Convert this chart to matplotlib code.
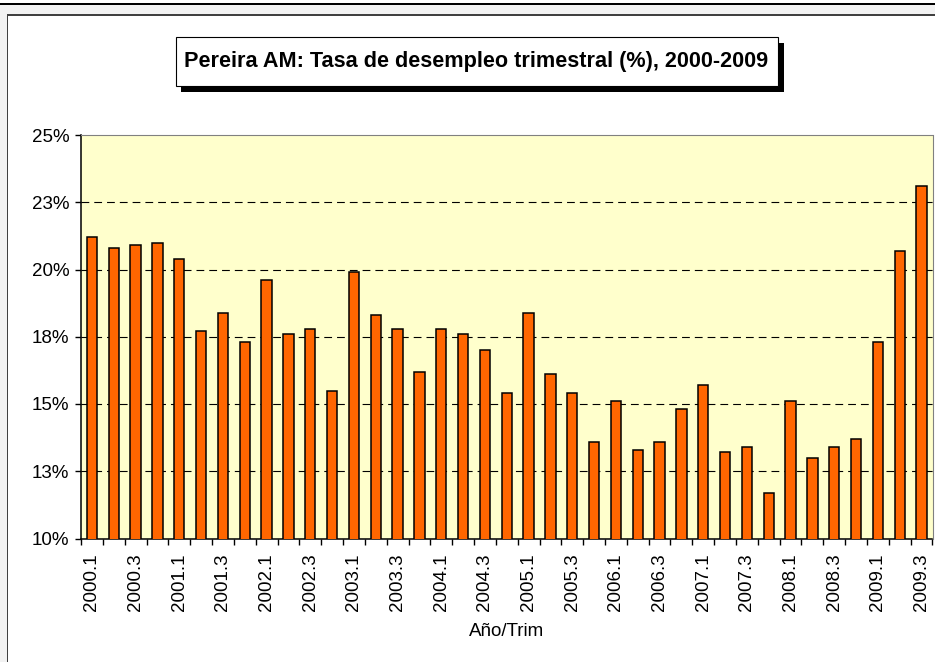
import matplotlib
matplotlib.use('Agg')
import matplotlib.pyplot as plt
from matplotlib import font_manager
from matplotlib.patches import Rectangle

# --- data --- #
periods = [
    '2000.1', '2000.2', '2000.3', '2000.4',
    '2001.1', '2001.2', '2001.3', '2001.4',
    '2002.1', '2002.2', '2002.3', '2002.4',
    '2003.1', '2003.2', '2003.3', '2003.4',
    '2004.1', '2004.2', '2004.3', '2004.4',
    '2005.1', '2005.2', '2005.3', '2005.4',
    '2006.1', '2006.2', '2006.3', '2006.4',
    '2007.1', '2007.2', '2007.3', '2007.4',
    '2008.1', '2008.2', '2008.3', '2008.4',
    '2009.1', '2009.2', '2009.3',
]
unemployment = [
    21.2, 20.8, 20.9, 21.0,
    20.4, 17.7, 18.4, 17.3,
    19.6, 17.6, 17.8, 15.5,
    19.9, 18.3, 17.8, 16.2,
    17.8, 17.6, 17.0, 15.4,
    18.4, 16.1, 15.4, 13.6,
    15.1, 13.3, 13.6, 14.8,
    15.7, 13.2, 13.4, 11.7,
    15.1, 13.0, 13.4, 13.7,
    17.3, 20.7, 23.1,
]
y_ticks = [10, 12.5, 15, 17.5, 20, 22.5, 25]
y_tick_labels = ['10%', '13%', '15%', '18%', '20%', '23%', '25%']

# --- style --- #
W, H = 935, 662
bar_color = '#FF6600'
plot_bg = '#FFFFCC'
frame_gray = '#F2F2F2'

names = {f.name for f in font_manager.fontManager.ttflist}
narrow = 'Liberation Sans Narrow' if 'Liberation Sans Narrow' in names else None
plt.rcParams['font.family'] = ['Liberation Sans', 'DejaVu Sans']

fig = plt.figure(figsize=(W / 100, H / 100), dpi=100, facecolor='white')


def px_rect(x0, y0, x1, y1, **kw):
    # rectangle given in image pixels (top-left origin)
    r = Rectangle((x0 / W, 1 - y1 / H), (x1 - x0) / W, (y1 - y0) / H,
                  transform=fig.transFigure, **kw)
    fig.add_artist(r)
    return r


# outer frame
px_rect(0, 4, W, 14, facecolor=frame_gray, edgecolor='none', zorder=0)
px_rect(0, 4, 7, H, facecolor=frame_gray, edgecolor='none', zorder=0)
px_rect(0, 2.5, W, 4.5, facecolor='black', edgecolor='none', zorder=1)
px_rect(7, 14, W, 15.5, facecolor='#404040', edgecolor='none', zorder=1)
px_rect(7, 14, 8.2, H, facecolor='#404040', edgecolor='none', zorder=1)

# plot area
left, right, top, bottom = 81, 932.5, 135, 538.5
ax = fig.add_axes([left / W, 1 - bottom / H, (right - left) / W, (bottom - top) / H])
ax.set_facecolor(plot_bg)

x = list(range(len(periods)))
ax.bar(x, unemployment, width=0.47, color=bar_color,
       edgecolor='black', linewidth=1.1, zorder=3)

ax.set_xlim(-0.5, len(periods) - 0.5)
ax.set_ylim(10, 25)
ax.set_yticks(y_ticks)
ax.set_yticklabels(y_tick_labels, fontsize=13.5)
ax.tick_params(axis='y', direction='out', length=4.5, width=1, pad=4)

ax.set_xticks(x[::2])
ax.set_xticklabels(periods[::2], rotation=90, fontsize=13.5)
ax.set_xticks([i - 0.5 for i in range(len(periods) + 1)], minor=True)
ax.tick_params(axis='x', which='major', length=0, pad=11)
ax.tick_params(axis='x', which='minor', direction='out', length=4, width=1)

for yv in y_ticks[1:-1]:
    ax.axhline(yv, color='black', linewidth=0.8, dashes=(7, 4.5), zorder=2)

ax.spines['left'].set_color('black')
ax.spines['bottom'].set_color('black')
ax.spines['left'].set_linewidth(1.1)
ax.spines['bottom'].set_linewidth(1.1)
ax.spines['top'].set_color('#808080')
ax.spines['right'].set_color('#808080')

xlab_font = {'family': [narrow, 'DejaVu Sans']} if narrow else {'fontstretch': 'condensed'}
ax.set_xlabel('Año/Trim', fontsize=13.5, labelpad=8, **xlab_font)

# title box with shadow
px_rect(181, 43, 784, 92, facecolor='black', edgecolor='none', zorder=2)
px_rect(176, 37, 778, 86, facecolor='white', edgecolor='black', linewidth=0.8, zorder=3)
title = 'Pereira AM: Tasa de desempleo trimestral (%), 2000-2009'
if narrow:
    fig.text(477 / W, 1 - 62 / H, title, ha='center', va='center', fontsize=18,
             fontweight='bold', family=[narrow, 'DejaVu Sans'], zorder=4)
else:
    fig.text(476 / W, 1 - 62 / H, title, ha='center', va='center', fontsize=15.6,
             fontweight='bold', zorder=4)

fig.savefig('out.png', dpi=100, facecolor=fig.get_facecolor())
